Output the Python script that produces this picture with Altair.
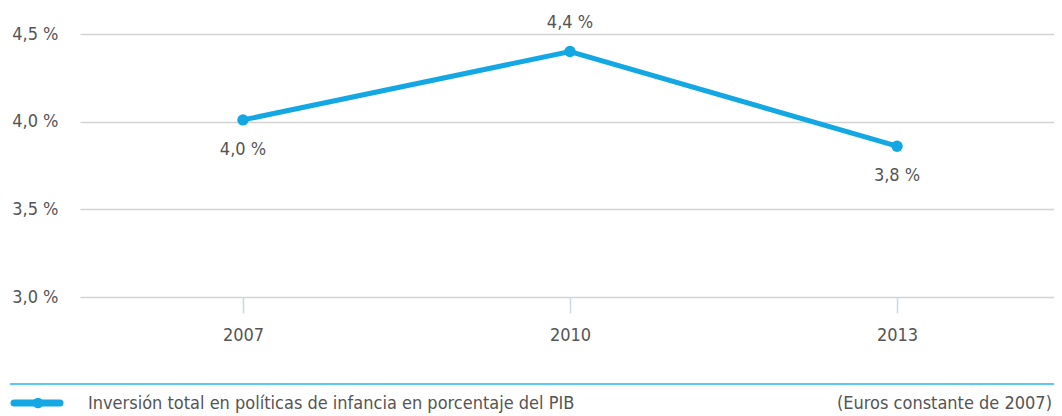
import altair as alt
import pandas as pd

years = [2007, 2010, 2013]
values = [4.01, 4.40, 3.86]
labels = ["4,0 %", "4,4 %", "3,8 %"]
y_ticks = [3.0, 3.5, 4.0, 4.5]
legend_label = "Inversión total en políticas de infancia en porcentaje del PIB"
note_label = "(Euros constante de 2007)"

FONT = "DejaVu Sans Condensed, sans-serif"
BLUE = "#13a8e4"
GRAY_TEXT = "#555555"

df = pd.DataFrame({"year": years, "value": values, "label": labels})

W, H = 974, 263
FS = 18

x = alt.X("year:Q", scale=alt.Scale(domain=[2005.505, 2014.44], nice=False, zero=False),
          axis=alt.Axis(values=years, format="d", title=None, grid=False, domain=False,
                        tickSize=16, tickColor="#cfd8e2", tickWidth=1.5,
                        labelPadding=13, labelFontSize=FS, labelColor=GRAY_TEXT,
                        labelFont=FONT))
y = alt.Y("value:Q", scale=alt.Scale(domain=[3.0, 4.5], nice=False, zero=False),
          axis=alt.Axis(values=y_ticks, title=None, domain=False, ticks=False,
                        grid=True, gridColor="#d3d3d3", gridWidth=1.5,
                        labelPadding=22, labelFontSize=FS, labelColor=GRAY_TEXT,
                        labelFont=FONT,
                        labelExpr="replace(format(datum.value, '.1f'), '.', ',') + ' %'"))

base = alt.Chart(df)
line = base.mark_line(color=BLUE, strokeWidth=5).encode(x=x, y=y)
pts = base.mark_circle(color=BLUE, size=130, opacity=1).encode(x=x, y=y)
lab_above = base.transform_filter("datum.year == 2010").mark_text(
    dy=-29, fontSize=FS, font=FONT, color=GRAY_TEXT).encode(x=x, y=y, text="label:N")
lab_below = base.transform_filter("datum.year != 2010").mark_text(
    dy=30, fontSize=FS, font=FONT, color=GRAY_TEXT).encode(x=x, y=y, text="label:N")

one = alt.Chart(pd.DataFrame({"k": [0]}))
sep = one.mark_rule(color="#5cc8f5", strokeWidth=2).encode(
    x=alt.value(-70), x2=alt.value(W), y=alt.value(350))
leg_line = one.mark_rule(color=BLUE, strokeWidth=7, strokeCap="round").encode(
    x=alt.value(-66), x2=alt.value(-20), y=alt.value(369))
leg_dot = one.mark_circle(color=BLUE, size=110, opacity=1).encode(
    x=alt.value(-42), y=alt.value(369))
leg_text = one.mark_text(align="left", baseline="middle", fontSize=FS, font=FONT,
                         color=GRAY_TEXT).encode(
    x=alt.value(8), y=alt.value(370), text=alt.value(legend_label))
note_text = one.mark_text(align="right", baseline="middle", fontSize=FS, font=FONT,
                          color=GRAY_TEXT).encode(
    x=alt.value(W - 2), y=alt.value(370), text=alt.value(note_label))

chart = alt.layer(line, pts, lab_above, lab_below, sep, leg_line, leg_dot, leg_text,
                  note_text).properties(
    width=W, height=H,
    autosize=alt.AutoSizeParams(type="none"),
    padding={"left": 72, "top": 26, "right": 0, "bottom": 119},
).configure_view(stroke=None)

chart.save("out.html", embed_options={"renderer": "svg", "actions": False})
